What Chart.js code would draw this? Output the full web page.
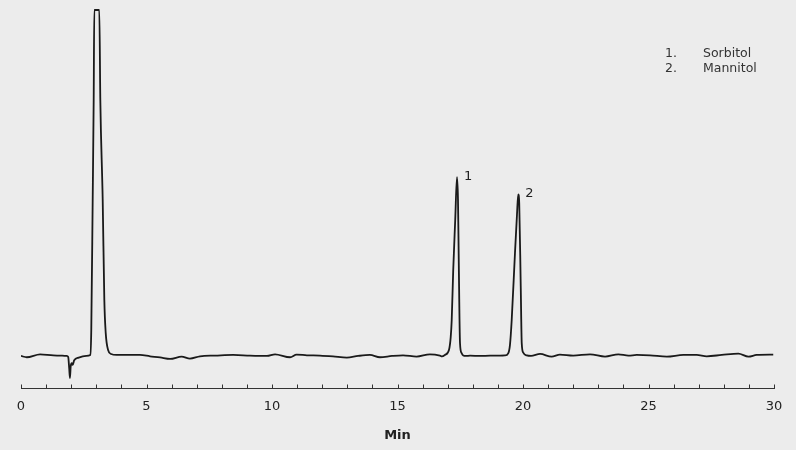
<!DOCTYPE html>
<html>
<head>
<meta charset="utf-8">
<script src="https://cdn.jsdelivr.net/npm/chart.js@4/dist/chart.umd.min.js"></script>
<style>
html,body{margin:0;padding:0;background:#ececec;}
canvas{display:block;}
</style>
</head>
<body>
<canvas id="c" width="796" height="450"></canvas>
<script>
// Retention time (min)
const times = [0,0.23,0.76,1.29,1.82,1.88,1.92,1.95,1.98,2.02,2.06,2.12,2.3,2.6,2.76,2.80,2.856,2.896,2.92,3.12,3.16,3.255,3.32,3.375,3.47,3.59,3.81,4.74,5.14,5.54,5.94,6.40,6.73,7.13,7.73,8.45,9.12,9.80,10.12,10.72,10.98,11.39,11.91,12.43,12.98,13.43,13.90,14.30,14.78,15.22,15.76,16.29,16.69,16.77,16.89,17.05,17.12,17.16,17.22,17.30,17.37,17.41,17.44,17.49,17.55,17.62,17.73,17.89,18.29,18.69,19.08,19.28,19.41,19.48,19.55,19.68,19.76,19.81,19.85,19.91,19.95,20.01,20.15,20.32,20.68,21.14,21.47,22.00,22.67,23.27,23.80,24.20,24.53,25.06,25.73,26.39,26.92,27.32,27.92,28.58,28.98,29.31,29.97];
// Detector signal
const signal = [-0.3,-0.7,0.2,-0.1,-0.3,-0.6,-4,-7,-3.5,-2.5,-3.0,-1.6,-0.8,-0.3,0,7.6,46.9,77.2,104.4,104.4,77.2,46.9,16.6,6.7,1.5,0.3,0,0,-0.4,-0.75,-1.2,-0.5,-1.1,-0.4,-0.2,0,-0.2,-0.3,0.2,-0.7,0.1,-0.1,-0.2,-0.45,-0.8,-0.3,0,-0.7,-0.3,-0.1,-0.5,0.2,-0.2,-0.45,0,1.5,5.4,10.6,25.7,40.9,53.8,46.9,28.8,3.6,0.6,-0.15,-0.3,-0.2,-0.3,-0.2,-0.2,-0.15,0.5,3.0,10.6,30.8,42.4,48.6,45.9,20.7,3.5,0.7,-0.15,-0.3,0.3,-0.5,0.1,-0.2,0.2,-0.5,0.2,-0.2,0,-0.1,-0.5,0,0,-0.4,0,0.4,-0.5,0,0.1];
// Axis
const xMin = 0, xMax = 30, xStep = 5, minorStep = 1;
const xTitle = "Min";
// Peaks
const peakNumbers = ["1","2"];
const peakTimes = [17.37, 19.81];
const peakHeights = [53.8, 48.6];
const compoundNames = ["Sorbitol","Mannitol"];

const FONT = "'DejaVu Sans', Verdana, sans-serif";
const data = times.map((t,i)=>({x:t,y:signal[i]}));

const bgPlugin = {
  id:'bg',
  beforeDraw(chart){
    const ctx = chart.ctx;
    ctx.save();
    ctx.fillStyle = '#ececec';
    ctx.fillRect(0,0,chart.width,chart.height);
    ctx.restore();
  }
};

const annoPlugin = {
  id:'anno',
  afterDraw(chart){
    const ctx = chart.ctx;
    const xs = chart.scales.x, ys = chart.scales.y;
    const bottom = chart.chartArea.bottom;
    ctx.save();
    // inward minor ticks
    ctx.strokeStyle = '#333';
    ctx.lineWidth = 1;
    for (let v = xMin; v <= xMax + 1e-9; v += minorStep) {
      const px = Math.round(xs.getPixelForValue(v)) + 0.5;
      ctx.beginPath();
      ctx.moveTo(px, bottom);
      ctx.lineTo(px, bottom - 3.5);
      ctx.stroke();
    }
    // peak labels
    ctx.fillStyle = '#222';
    ctx.font = '13px ' + FONT;
    ctx.textAlign = 'left';
    ctx.textBaseline = 'middle';
    peakNumbers.forEach((n,i)=>{
      ctx.fillText(n, xs.getPixelForValue(peakTimes[i]) + 7, ys.getPixelForValue(peakHeights[i]) - 1);
    });
    // compound list
    ctx.font = '12.5px ' + FONT;
    ctx.fillStyle = '#333';
    compoundNames.forEach((name,i)=>{
      const y = 54 + i*15;
      ctx.fillText(peakNumbers[i] + '.', 665, y);
      ctx.fillText(name, 703, y);
    });
    ctx.restore();
  }
};

new Chart(document.getElementById('c'), {
  type:'line',
  data:{datasets:[{
    data:data,
    borderColor:'#1a1a1a',
    borderWidth:1.8,
    pointRadius:0,
    fill:false,
    cubicInterpolationMode:'monotone'
  }]},
  options:{
    responsive:false,
    animation:false,
    events:[],
    layout:{padding:{left:21,right:22,top:8,bottom:0}},
    plugins:{legend:{display:false},tooltip:{enabled:false},title:{display:false}},
    scales:{
      x:{
        type:'linear',
        min:xMin,max:xMax,
        afterFit(scale){ scale.height = 62; },
        grid:{display:true,drawOnChartArea:false,drawTicks:false},
        border:{display:true,color:'#333',width:1},
        ticks:{stepSize:xStep,color:'#222',padding:11,font:{family:FONT,size:13},maxRotation:0},
        title:{display:true,text:xTitle,color:'#222',font:{family:FONT,size:13,weight:'bold'},padding:{top:0,bottom:7}}
      },
      y:{
        type:'linear',
        display:false,
        min:-10,max:105
      }
    }
  },
  plugins:[bgPlugin,annoPlugin]
});
</script>
</body>
</html>
